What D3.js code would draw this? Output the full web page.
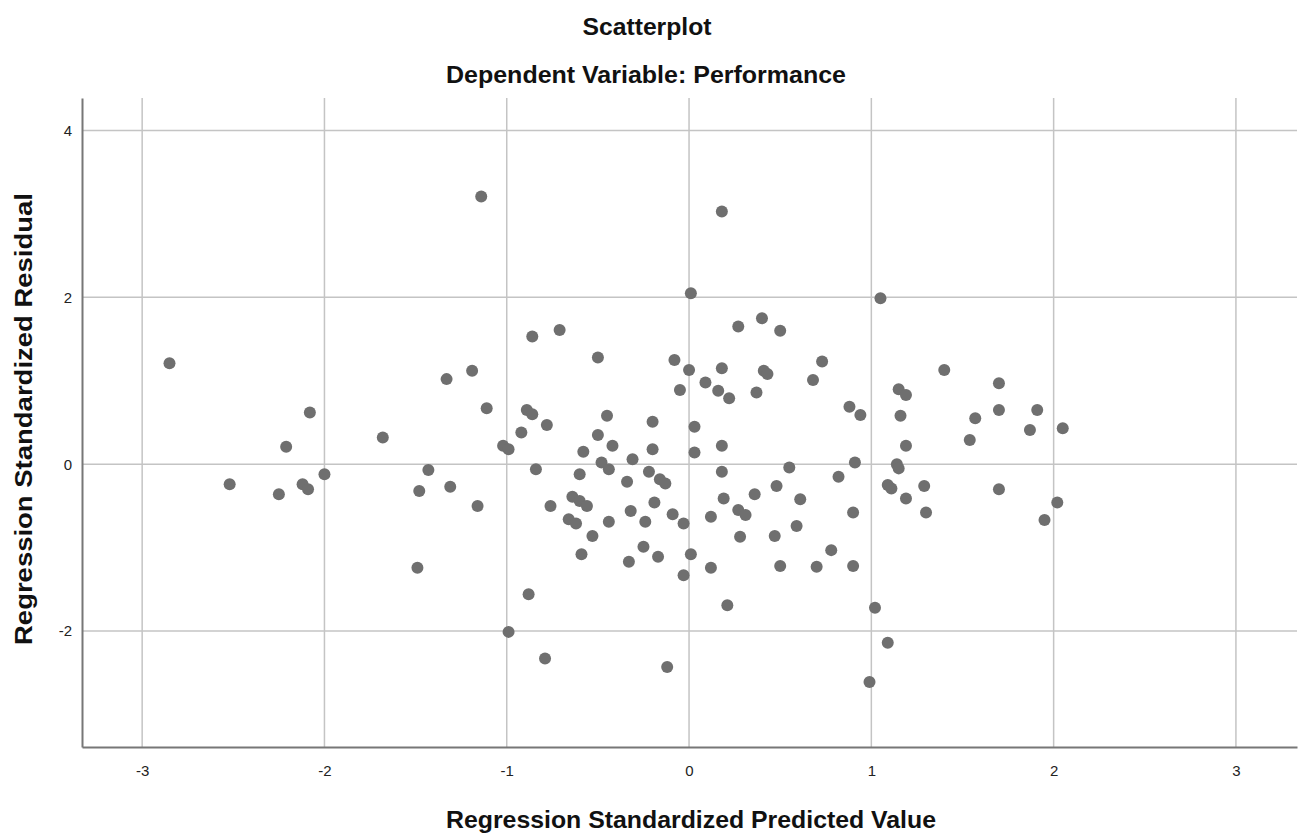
<!DOCTYPE html>
<html>
<head>
<meta charset="utf-8">
<script src="https://cdn.jsdelivr.net/npm/d3@7"></script>
<style>
    body { margin: 0; background: #fff; }
    svg { display: block; font-family: 'Liberation Sans', Arial, sans-serif; }
    .grid line { stroke: #c4c4c4; stroke-width: 1.5; }
    .tick-label { font-size: 15px; fill: #222; }
    .title { font-size: 23px; font-weight: bold; fill: #111; }
    .axis-title { font-size: 24px; font-weight: bold; fill: #111; }
</style>
</head>
<body>
<div id="chart"></div>
<script>
/* === Residual scatterplot (D3.js v7) === */

var TITLE = 'Scatterplot';
var SUBTITLE = 'Dependent Variable: Performance';
var X_LABEL = 'Regression Standardized Predicted Value';
var Y_LABEL = 'Regression Standardized Residual';

var X_TICKS = [-3, -2, -1, 0, 1, 2, 3];
var Y_TICKS = [-2, 0, 2, 4];

// Regression standardized predicted value (x) for each case
var predicted = [
    -2.85, -2.08, -2.21, -1.68, -2.00, -2.52, -2.25, -2.12, -2.09, 0.01,
    -0.86, -0.71, -0.50, -0.08, 0.00, -0.05, -1.33, -1.19, -1.11, -0.89,
    -0.86, -0.78, -0.92, -1.02, -0.99, -0.45, -0.20, -0.50, -0.42, -0.58,
    -0.20, -0.31, 0.03, 0.03, -1.43, -1.48, -1.31, -0.84, -0.60, -0.48,
    -0.44, -0.34, -0.22, -0.16, -0.13, -1.16, -0.76, -0.64, -0.60, -0.56,
    -0.66, -0.62, -0.53, -0.59, -0.44, -0.32, -0.19, -0.24, -0.09, -0.03,
    -0.25, -0.17, -0.33, 0.01, -0.03, -1.49, -0.88, -0.99, -0.79, -0.12,
    -1.14, 0.18, 1.05, 0.27, 0.40, 0.50, 0.73, 0.68, 0.18, 0.09,
    0.16, 0.22, 0.37, 0.41, 0.43, 0.88, 0.94, 1.40, 1.15, 1.19,
    1.16, 1.57, 1.70, 1.70, 1.54, 1.19, 0.18, 0.18, 0.55, 0.91,
    0.82, 0.48, 1.14, 1.15, 1.09, 1.11, 1.29, 0.19, 0.36, 0.61,
    1.19, 1.30, 1.70, 0.27, 0.31, 0.12, 0.59, 0.90, 0.28, 0.47,
    0.12, 0.50, 0.70, 0.78, 0.90, 0.21, 1.02, 1.09, 0.99, 1.91,
    1.87, 2.05, 2.02, 1.95
];

// Regression standardized residual (y) for each case
var residual = [
    1.21, 0.62, 0.21, 0.32, -0.12, -0.24, -0.36, -0.24, -0.30, 2.05,
    1.53, 1.61, 1.28, 1.25, 1.13, 0.89, 1.02, 1.12, 0.67, 0.65,
    0.60, 0.47, 0.38, 0.22, 0.18, 0.58, 0.51, 0.35, 0.22, 0.15,
    0.18, 0.06, 0.45, 0.14, -0.07, -0.32, -0.27, -0.06, -0.12, 0.02,
    -0.06, -0.21, -0.09, -0.18, -0.23, -0.50, -0.50, -0.39, -0.44, -0.50,
    -0.66, -0.71, -0.86, -1.08, -0.69, -0.56, -0.46, -0.69, -0.60, -0.71,
    -0.99, -1.11, -1.17, -1.08, -1.33, -1.24, -1.56, -2.01, -2.33, -2.43,
    3.21, 3.03, 1.99, 1.65, 1.75, 1.60, 1.23, 1.01, 1.15, 0.98,
    0.88, 0.79, 0.86, 1.12, 1.08, 0.69, 0.59, 1.13, 0.90, 0.83,
    0.58, 0.55, 0.97, 0.65, 0.29, 0.22, 0.22, -0.09, -0.04, 0.02,
    -0.15, -0.26, 0.00, -0.05, -0.25, -0.29, -0.26, -0.41, -0.36, -0.42,
    -0.41, -0.58, -0.30, -0.55, -0.61, -0.63, -0.74, -0.58, -0.87, -0.86,
    -1.24, -1.22, -1.23, -1.03, -1.22, -1.69, -1.72, -2.14, -2.61, 0.65,
    0.41, 0.43, -0.46, -0.67
];

var X_DOMAIN = [-3.33, 3.335];
var Y_DOMAIN = [-3.39, 4.39];

function drawChart() {
    var width = 1307;
    var height = 836;
    var margin = { top: 98, right: 10, bottom: 89, left: 82 };
    var innerW = width - margin.left - margin.right;
    var innerH = height - margin.top - margin.bottom;

    var svg = d3.select('#chart')
        .append('svg')
        .attr('width', width)
        .attr('height', height);

    var x = d3.scaleLinear().domain(X_DOMAIN).range([0, innerW]);
    var y = d3.scaleLinear().domain(Y_DOMAIN).range([innerH, 0]);

    var g = svg.append('g')
        .attr('transform', 'translate(' + margin.left + ',' + margin.top + ')');

    // Gridlines
    var grid = g.append('g').attr('class', 'grid');
    grid.selectAll('.vgrid')
        .data(X_TICKS)
        .join('line')
        .attr('class', 'vgrid')
        .attr('x1', function(d) { return x(d); })
        .attr('x2', function(d) { return x(d); })
        .attr('y1', 0)
        .attr('y2', innerH);
    grid.selectAll('.hgrid')
        .data(Y_TICKS)
        .join('line')
        .attr('class', 'hgrid')
        .attr('x1', 0)
        .attr('x2', innerW)
        .attr('y1', function(d) { return y(d); })
        .attr('y2', function(d) { return y(d); });

    // Axes (no tick marks, only labels; plain hyphen for minus like SPSS)
    var fmt = function(d) { return String(d); };
    var xAxis = d3.axisBottom(x).tickValues(X_TICKS).tickSize(0).tickPadding(18.5)
        .tickFormat(fmt);
    var yAxis = d3.axisLeft(y).tickValues(Y_TICKS).tickSize(0).tickPadding(10)
        .tickFormat(fmt);

    var gx = g.append('g')
        .attr('transform', 'translate(0,' + innerH + ')')
        .call(xAxis);
    var gy = g.append('g').call(yAxis);

    [gx, gy].forEach(function(a) {
        a.select('.domain').attr('stroke', '#777').attr('stroke-width', 2);
        a.selectAll('text')
            .attr('class', 'tick-label')
            .style('font-family', "'Liberation Sans', Arial, sans-serif");
    });

    // Points
    var points = predicted.map(function(p, i) {
        return { x: p, y: residual[i] };
    });
    g.append('g')
        .selectAll('circle')
        .data(points)
        .join('circle')
        .attr('cx', function(d) { return x(d.x); })
        .attr('cy', function(d) { return y(d.y); })
        .attr('r', 6)
        .attr('fill', '#6f6f6f');

    // Titles
    svg.append('text')
        .attr('class', 'title')
        .attr('x', 647)
        .attr('y', 35)
        .attr('text-anchor', 'middle')
        .attr('textLength', 129)
        .attr('lengthAdjust', 'spacingAndGlyphs')
        .text(TITLE);
    svg.append('text')
        .attr('class', 'title')
        .attr('x', 646)
        .attr('y', 83)
        .attr('text-anchor', 'middle')
        .attr('textLength', 400)
        .attr('lengthAdjust', 'spacingAndGlyphs')
        .text(SUBTITLE);

    svg.append('text')
        .attr('class', 'axis-title')
        .attr('x', 691)
        .attr('y', 828)
        .attr('text-anchor', 'middle')
        .attr('textLength', 490)
        .attr('lengthAdjust', 'spacingAndGlyphs')
        .text(X_LABEL);
    svg.append('text')
        .attr('class', 'axis-title')
        .attr('transform', 'translate(32,419) rotate(-90)')
        .attr('text-anchor', 'middle')
        .attr('textLength', 452)
        .attr('lengthAdjust', 'spacingAndGlyphs')
        .text(Y_LABEL);
}

drawChart();
</script>
</body>
</html>
